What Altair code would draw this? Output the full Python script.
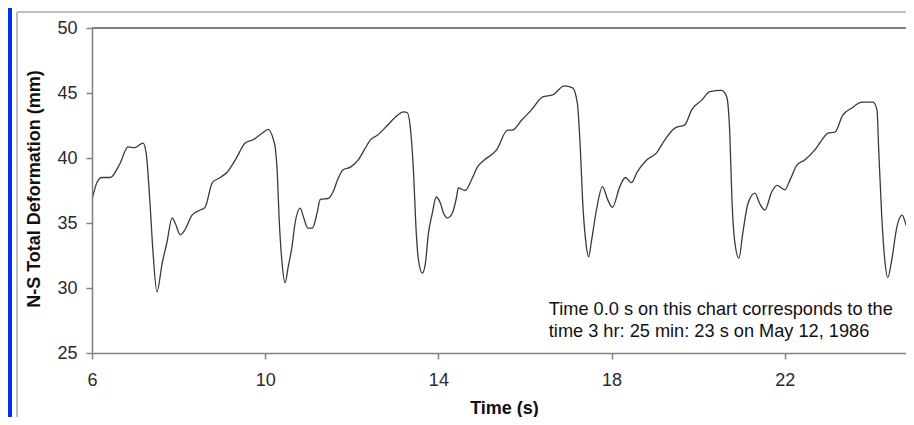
import altair as alt
import pandas as pd

time_s = [6.00, 6.12, 6.23, 6.42, 6.65, 6.83, 6.99, 7.18, 7.25, 7.34, 7.41, 7.50, 7.62, 7.73, 7.85,
          7.92, 8.04, 8.15, 8.31, 8.50, 8.61, 8.78, 8.96, 9.12, 9.31, 9.54, 9.72, 9.93, 10.07, 10.19,
          10.23, 10.28, 10.32, 10.39, 10.46, 10.53, 10.62, 10.69, 10.81, 10.88, 10.99, 11.09, 11.20,
          11.27, 11.46, 11.57, 11.67, 11.80, 11.97, 12.15, 12.31, 12.43, 12.59, 12.82, 13.01, 13.19,
          13.28, 13.35, 13.42, 13.49, 13.54, 13.63, 13.70, 13.77, 13.86, 13.95, 14.05, 14.12, 14.21,
          14.32, 14.42, 14.46, 14.62, 14.79, 14.90, 15.06, 15.34, 15.60, 15.71, 15.92, 16.15, 16.41,
          16.64, 16.91, 17.10, 17.21, 17.28, 17.33, 17.40, 17.47, 17.54, 17.65, 17.79, 17.91, 18.02,
          18.19, 18.32, 18.46, 18.58, 18.81, 19.04, 19.23, 19.46, 19.69, 19.85, 20.08, 20.27, 20.54,
          20.66, 20.73, 20.78, 20.84, 20.94, 21.03, 21.15, 21.31, 21.42, 21.54, 21.70, 21.82, 22.00,
          22.12, 22.28, 22.46, 22.69, 22.86, 22.99, 23.16, 23.34, 23.55, 23.78, 24.04, 24.13, 24.17,
          24.24, 24.31, 24.38, 24.47, 24.59, 24.71, 24.82, 24.94, 25.01]

deformation_mm = [36.8, 38.15, 38.5, 38.5, 39.6, 40.85, 40.8, 41.15, 40.4, 36.5, 32.7, 29.7, 31.9, 33.5, 35.4,
                  35.0, 34.1, 34.5, 35.6, 36.0, 36.2, 38.1, 38.5, 38.9, 39.85, 41.15, 41.4, 41.9, 42.2, 41.4,
                  40.85, 38.8, 35.5, 31.9, 30.4, 31.6, 33.2, 35.0, 36.15, 35.5, 34.6, 34.6, 35.8,
                  36.8, 36.9, 37.4, 38.3, 39.1, 39.3, 39.85, 40.75, 41.4, 41.75, 42.5, 43.15, 43.55,
                  43.5, 42.4, 39.3, 34.2, 32.15, 31.15, 31.9, 34.2, 35.75, 37.0, 36.5, 35.75, 35.4,
                  35.75, 37.0, 37.7, 37.5, 38.5, 39.3, 39.85, 40.6, 42.15, 42.15, 42.9, 43.7, 44.7,
                  44.85, 45.55, 45.4, 44.2, 40.6, 36.8, 33.7, 32.4, 33.7, 36.0, 37.8, 36.8, 36.2,
                  37.8, 38.5, 38.1, 38.85, 39.85, 40.4, 41.4, 42.3, 42.55, 43.7, 44.45, 45.1, 45.2,
                  44.7, 41.9, 36.8, 33.7, 32.3, 34.2, 36.5, 37.3, 36.5, 36.0, 37.4, 37.9, 37.55,
                  38.3, 39.45, 39.85, 40.6, 41.4, 41.9, 42.0, 43.3, 43.85, 44.3, 44.3, 43.7, 40.6,
                  35.5, 32.15, 30.8, 32.15, 34.7, 35.6, 34.7, 34.2, 34.3]

x_ticks = [6, 10, 14, 18, 22]
y_ticks = [25, 30, 35, 40, 45, 50]
note_lines = ["Time 0.0 s on this chart corresponds to the", "time 3 hr: 25 min: 23 s on May 12, 1986"]
note_t = [16.55, 16.55]
note_v = [27.92, 26.23]

W, H = 814, 325
BOTTOM = 64
FONT = "Liberation Sans"

df = pd.DataFrame({"t": time_s, "v": deformation_mm})
notes = pd.DataFrame({"t": note_t, "v": note_v, "label": note_lines})
one = pd.DataFrame({"k": [0]})

xscale = alt.Scale(domain=[6, 24.8], nice=False, zero=False)
yscale = alt.Scale(domain=[25, 50], nice=False, zero=False)

panel = alt.Chart(one).mark_rect(color="white").encode(
    x=alt.value(-80), x2=alt.value(W), y=alt.value(-20), y2=alt.value(H + BOTTOM)
)
border_v = alt.Chart(one).mark_rule(color="#a8a8a8", strokeWidth=1.5).encode(
    x=alt.value(-75), y=alt.value(-16), y2=alt.value(H + BOTTOM)
)
border_h = alt.Chart(one).mark_rule(color="#a8a8a8", strokeWidth=1.5).encode(
    x=alt.value(-75), x2=alt.value(W), y=alt.value(-16)
)
top_rule = alt.Chart(one).mark_rule(color="#808080", strokeWidth=2).encode(
    x=alt.value(0), x2=alt.value(W), y=alt.value(0)
)

line = alt.Chart(df).mark_line(color="#3a3a3a", strokeWidth=1.3, interpolate="monotone", clip=True).encode(
    x=alt.X("t:Q", scale=xscale,
            axis=alt.Axis(values=x_ticks, title="Time (s)", grid=False, domainColor="#808080",
                          domainWidth=1.5, tickColor="#808080", tickSize=6, tickWidth=1.5,
                          labelFont=FONT, labelFontSize=18, labelColor="#2a2a2a", labelPadding=12,
                          labelFlush=False,
                          titleFont=FONT, titleFontSize=18, titleFontWeight="bold", titleColor="#111111",
                          titleX=412, titleY=60, titleBaseline="alphabetic", titleAlign="center",
                          zindex=2)),
    y=alt.Y("v:Q", scale=yscale,
            axis=alt.Axis(values=y_ticks, title="N-S Total Deformation (mm)", grid=False,
                          domainColor="#808080", domainWidth=1.5, tickColor="#808080", tickSize=6,
                          tickWidth=1.5, labelFont=FONT, labelFontSize=18, labelColor="#2a2a2a",
                          labelPadding=9, labelFlush=False, titleFont=FONT, titleFontSize=18,
                          titleFontWeight="bold",
                          titleColor="#111111", titleX=-58, titleY=H / 2 - 2, titleAngle=-90,
                          titleBaseline="middle", titleAlign="center", zindex=2)),
)

note = alt.Chart(notes).mark_text(align="left", baseline="alphabetic", font=FONT, fontSize=18.2,
                                  color="#111111").encode(
    x=alt.X("t:Q", scale=xscale), y=alt.Y("v:Q", scale=yscale), text="label:N"
)

chart = alt.layer(panel, border_v, border_h, top_rule, line, note).properties(
    width=W, height=H,
    background="#0033e6",
    padding={"left": 84, "top": 20, "right": 0, "bottom": BOTTOM},
    autosize=alt.AutoSizeParams(type="none"),
).configure_view(stroke=None)

chart.save("out.html", embed_options={"renderer": "svg", "actions": False})
